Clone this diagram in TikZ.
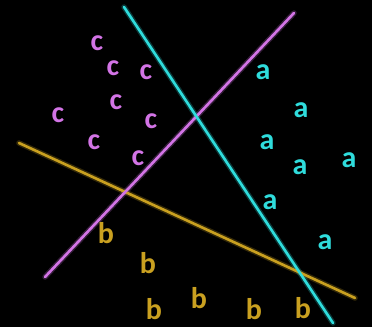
\documentclass[tikz,border=0pt]{standalone}
\usepackage{fontspec}
\setmainfont{Carlito}
\usepackage{tikz}
\definecolor{ccolor}{HTML}{D374E6}
\definecolor{acolor}{HTML}{2FDCDC}
\definecolor{bcolor}{HTML}{C9A020}
\tikzset{letter/.style={inner sep=0pt,font=\fontsize{30}{30}\selectfont\bfseries},cletter/.style={letter,text=ccolor},aletter/.style={letter,text=acolor},bletter/.style={letter,text=bcolor},sepline/.style={line width=2.6pt,line cap=round},glow/.style={line width=5.5pt,line cap=round,opacity=.25}}

\begin{document}
\begin{tikzpicture}[x=1pt,y=-1pt]
 \fill[black] (0,0) rectangle (372,327);

 \coordinate (a-top) at (124,7);
 \coordinate (a-bot) at (333,323);
 \coordinate (c-top) at (294,13);
 \coordinate (c-bot) at (45,277);
 \coordinate (b-left) at (19,143);
 \coordinate (b-right) at (355,298);

 % soft halo under each line
 \draw[glow,bcolor] (b-left)--(b-right);
 \draw[glow,ccolor] (c-bot)--(c-top);
 \draw[glow,acolor] (a-top)--(a-bot);
 \draw[sepline,bcolor] (b-left)--(b-right);
 \draw[sepline,ccolor] (c-bot)--(c-top);
 \draw[sepline,acolor] (a-top)--(a-bot);

 \foreach \px/\py [count=\i] in {97/43,113/68,146/72,116/102,58/115,151/121,94/142,138/158}
  {\node[cletter] (c\i) at (\px,\py) {c};}
 \foreach \px/\py [count=\i] in {263/72,301/110,267/142,300/167,349/160,270/202,325/242}
  {\node[aletter] (a\i) at (\px,\py) {a};}
 \foreach \px/\py [count=\i] in {106/233,148/263,199/298,154/309,254/309,303/308}
  {\node[bletter] (b\i) at (\px,\py) {b};}
\end{tikzpicture}
\end{document}
